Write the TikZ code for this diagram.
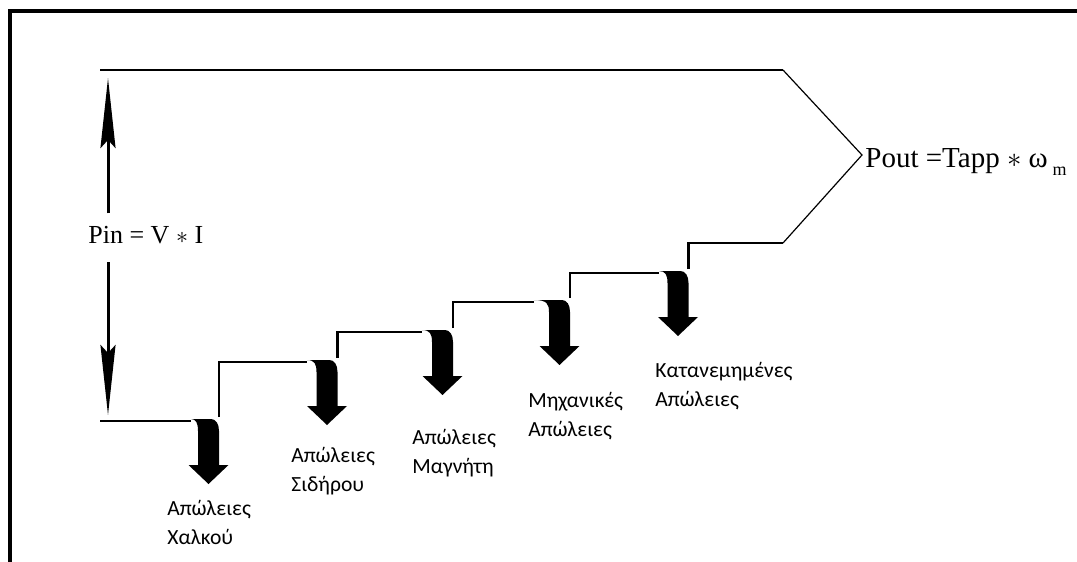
\documentclass[tikz,border=0pt]{standalone}
\usepackage{fontspec}
\setmainfont{Liberation Serif}
\newfontfamily\lossfont{Carlito}
\usepackage{tikz}
\usetikzlibrary{arrows.meta}
\newcommand{\lossarrow}[3]{\fill (#1,#3) -- (#2-8,#3) .. controls (#2-3,#3) and (#2,#3+5) .. (#2,#3+12)
  -- (#2,#3+46) -- (#2+9.5,#3+46) -- (#2-10.5,#3+65) -- (#2-30.5,#3+46) -- (#2-21,#3+46)
  -- (#2-21,#3+12) .. controls (#2-21,#3+4) and (#2-23,#3) .. (#1,#3) -- cycle;}
\tikzstyle{frameline} = [line width=2pt, line join=miter]
\tikzstyle{stepline} = [line width=1.25pt]
\tikzstyle{slant} = [line width=0.6pt]
\tikzstyle{powerarrow} = [line width=1.5pt, -{Stealth[length=35pt, width=7.5pt, inset=4pt]}]
\tikzstyle{power} = [inner xsep=2pt, inner ysep=6pt, text depth=3.5pt, font=\fontsize{13}{15}\selectfont]
\tikzstyle{loss} = [anchor=north west, align=left, inner sep=0pt, font=\lossfont\fontsize{10.8}{14.5}\selectfont]

\begin{document}
\begin{tikzpicture}[x=0.5pt, y=-0.5pt]
			\useasboundingbox (0,0) rectangle (1077,562);
			\draw[frameline] (10,562) -- (10,11) -- (1077,11);
			% input power
			\coordinate (pintop) at (108,78);
			\coordinate (pinbot) at (108,415);
			\node[power, anchor=base west] (pin) at (84,243) {Pin = V $\ast$ I};
			\draw[powerarrow] (pin.north -| pintop) -- (pintop);
			\draw[powerarrow] (pin.south -| pinbot) -- (pinbot);
			% output power
			\coordinate (apex) at (862,155);
			\draw[stepline] (100,70) -- (783,70);
			\draw[slant] (783,70) -- (apex) -- (783,243);
			\node[anchor=base west, inner sep=1pt, font=\fontsize{14.5}{16}\selectfont] (pout) at (863,167) {Pout =Tapp $\ast$ ω\kern2.5pt\raisebox{-4pt}{\fontsize{9}{9}\selectfont m}};
			% steps
			\draw[stepline] (100,421) -- (191,421);
			\draw[stepline] (219,417) -- (219,362) -- (307,362);
			\draw[stepline] (337.5,358) -- (337.5,332) -- (422,332);
			\draw[stepline] (453,328) -- (453,302) -- (534,302);
			\draw[stepline] (570,298) -- (570,273) -- (659,273);
			\draw[stepline] (688.5,269) -- (688.5,243) -- (783,243);
			\lossarrow{191}{219}{419}
			\lossarrow{307}{337.5}{360}
			\lossarrow{422}{453}{330}
			\lossarrow{534}{570}{300}
			\lossarrow{659}{688.5}{271}
			% losses
			\node[loss] (cu) at (167,500) {Απώλειες\\Χαλκού};
			\node[loss] (fe) at (291,447) {Απώλειες\\Σιδήρου};
			\node[loss] (mag) at (412,429) {Απώλειες\\Μαγνήτη};
			\node[loss] (mech) at (528,392) {Μηχανικές\\Απώλειες};
			\node[loss] (stray) at (655,362) {Κατανεμημένες\\Απώλειες};
		\end{tikzpicture}
\end{document}
